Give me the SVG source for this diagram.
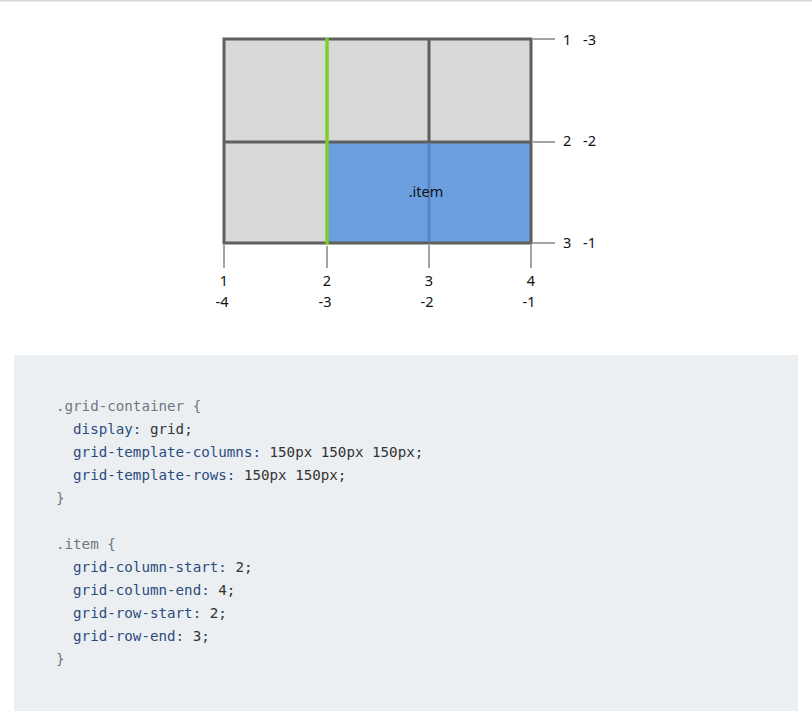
<svg xmlns="http://www.w3.org/2000/svg" width="812" height="725" viewBox="0 0 812 725">
<style>
.cell{fill:#d9d9d9}
.gl{stroke:#5f5f5f;stroke-width:3;fill:none}
.tick{stroke:#a3a3a3;stroke-width:2}
.lbl{font-family:"Noto Sans","Open Sans",sans-serif;font-size:14.5px;fill:#111}
.code{font-family:"DejaVu Sans Mono","Liberation Mono",monospace;font-size:14.2px}
.sel{fill:#6e7781}
.prop{fill:#2b4c7e}
.val{fill:#333333}
</style>
<rect x="0" y="0" width="812" height="725" fill="#ffffff"/>
<rect x="0" y="0" width="812" height="1.5" fill="#d8d8dc"/>
<g id="grid">
<rect class="cell" x="224" y="39" width="307" height="204"/>
</g>
<g id="connectors">
<rect x="327" y="142" width="204" height="101" fill="#6b9fdf"/>
<path class="gl" d="M224 39H531V243H224Z M224 142H531 M429 39V142"/>
<line x1="429" y1="143.5" x2="429" y2="241.5" stroke="#5585c6" stroke-width="3"/>
<line x1="327" y1="38" x2="327" y2="245" stroke="#7fcb2a" stroke-width="3.5"/>
<line class="tick" x1="533" y1="39" x2="555" y2="39"/>
<line class="tick" x1="533" y1="142" x2="555" y2="142"/>
<line class="tick" x1="533" y1="243" x2="555" y2="243"/>
<line class="tick" x1="224" y1="245" x2="224" y2="268"/>
<line class="tick" x1="327" y1="246" x2="327" y2="268"/>
<line class="tick" x1="429" y1="245" x2="429" y2="268"/>
<line class="tick" x1="531" y1="245" x2="531" y2="268"/>
</g>
<g id="item">
<text class="lbl" x="426" y="197" text-anchor="middle" fill="#1a1a1a">.item</text>
</g>
<g id="row-labels">
<text class="lbl" x="563" y="45">1</text><text class="lbl" x="583" y="45">-3</text>
<text class="lbl" x="563" y="146">2</text><text class="lbl" x="583" y="146">-2</text>
<text class="lbl" x="563" y="248">3</text><text class="lbl" x="583" y="248">-1</text>
</g>
<g id="col-labels" text-anchor="middle">
<text class="lbl" x="224" y="286">1</text><text class="lbl" x="222" y="307">-4</text>
<text class="lbl" x="327" y="286">2</text><text class="lbl" x="325" y="307">-3</text>
<text class="lbl" x="429" y="286">3</text><text class="lbl" x="427" y="307">-2</text>
<text class="lbl" x="531" y="286">4</text><text class="lbl" x="529" y="307">-1</text>
</g>
<g id="code">
<rect x="14" y="355" width="784" height="356" fill="#eceff2"/>
<text class="code" x="56" y="411"><tspan class="sel">.grid-container {</tspan></text>
<text class="code" x="56" y="434" xml:space="preserve"><tspan class="prop">  display:</tspan><tspan class="val"> grid;</tspan></text>
<text class="code" x="56" y="457" xml:space="preserve"><tspan class="prop">  grid-template-columns:</tspan><tspan class="val"> 150px 150px 150px;</tspan></text>
<text class="code" x="56" y="480" xml:space="preserve"><tspan class="prop">  grid-template-rows:</tspan><tspan class="val"> 150px 150px;</tspan></text>
<text class="code" x="56" y="503"><tspan class="sel">}</tspan></text>
<text class="code" x="56" y="549"><tspan class="sel">.item {</tspan></text>
<text class="code" x="56" y="572" xml:space="preserve"><tspan class="prop">  grid-column-start:</tspan><tspan class="val"> 2;</tspan></text>
<text class="code" x="56" y="595" xml:space="preserve"><tspan class="prop">  grid-column-end:</tspan><tspan class="val"> 4;</tspan></text>
<text class="code" x="56" y="618" xml:space="preserve"><tspan class="prop">  grid-row-start:</tspan><tspan class="val"> 2;</tspan></text>
<text class="code" x="56" y="641" xml:space="preserve"><tspan class="prop">  grid-row-end:</tspan><tspan class="val"> 3;</tspan></text>
<text class="code" x="56" y="664"><tspan class="sel">}</tspan></text>
</g>
</svg>
